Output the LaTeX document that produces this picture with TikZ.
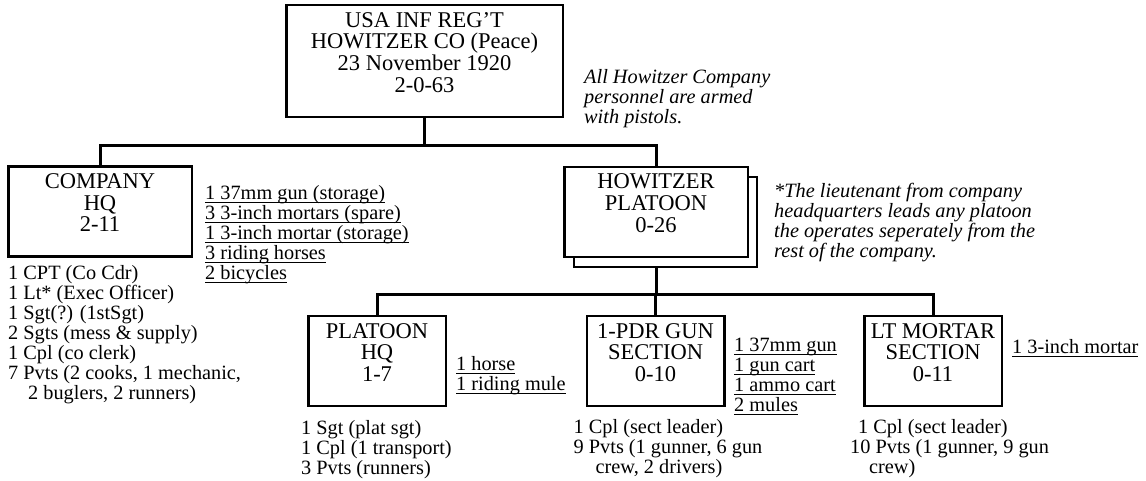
\documentclass[tikz,border=0pt]{standalone}
\usepackage{fontspec}
\setmainfont{Liberation Serif}
\usetikzlibrary{positioning, shadows, backgrounds}

\newcommand{\boxfont}{\fontsize{22.5}{21.7}\selectfont}
\newcommand{\listfont}{\fontsize{20.3}{20}\selectfont}
\newcommand{\lowpad}{\rule[-17.5pt]{0pt}{17.5pt}}
\newcommand{\kit}[1]{\setbox0=\hbox{#1}\rlap{\rule[-4pt]{\wd0}{1.3pt}}\box0}

\begin{document}
\begin{tikzpicture}[
        x=1pt, y=-1pt,
        unit/.style={
            rectangle, draw=black, line width=2.5pt, fill=white,
            align=center, font=\boxfont,
            inner xsep=3pt, inner ysep=7pt
        },
        bigunit/.style={unit, minimum width=276.5pt},
        midunit/.style={unit, minimum width=183.5pt},
        smallunit/.style={unit, minimum width=137.5pt},
        kitlist/.style={align=left, font=\listfont, inner sep=0pt, anchor=north west},
        staff/.style={align=left, font=\listfont, inner sep=0pt, anchor=north west},
        note/.style={align=left, font=\listfont\itshape, inner sep=0pt, anchor=north west},
        link/.style={line width=3pt, black}
    ]
    \useasboundingbox (0,0) rectangle (1146,481);

    \node[bigunit] (root) at (424.5,61) {USA INF REG'T\\HOWITZER CO (Peace)\\23 November 1920\\2-0-63\lowpad};
    \node[midunit] (cohq) at (100,211.5) {COMPANY\\HQ\\2-11\lowpad};
    \node[midunit, copy shadow={shadow xshift=9.5pt, shadow yshift=-10pt, line width=2pt}] (howplt) at (656,212) {HOWITZER\\PLATOON\\0-26\lowpad};
    \node[smallunit] (plthq) at (377,361) {PLATOON\\HQ\\1-7\lowpad};
    \node[smallunit] (gunsec) at (655.5,361) {1-PDR GUN\\SECTION\\0-10\lowpad};
    \node[smallunit] (mortsec) at (933,361) {LT MORTAR\\SECTION\\0-11\lowpad};

    \node[note, below right=65.5pt and 20pt of root.north east] (rootnote) {All Howitzer Company\\personnel are armed\\with pistols.};
    \node[note, below right=17pt and 25pt of howplt.north east] (pltnote) {*The lieutenant from company\\headquarters leads any platoon\\the operates seperately from the\\rest of the company.};

    \node[kitlist, below right=19.5pt and 12pt of cohq.north east] (cohqkit) {\kit{1 37mm gun (storage)}\\\kit{3 3-inch mortars (spare)}\\\kit{1 3-inch mortar (storage)}\\\kit{3 riding horses}\\\kit{2 bicycles}};
    \node[staff, below right=7.5pt and 1pt of cohq.south west] (cohqstaff) {1 CPT (Co Cdr)\\1 Lt* (Exec Officer)\\1 Sgt(?) (1stSgt)\\2 Sgts (mess \& supply)\\1 Cpl (co clerk)\\7 Pvts (2 cooks, 1 mechanic,\\\hspace*{20pt}2 buglers, 2 runners)};

    \node[kitlist, below right=41pt and 9pt of plthq.north east] (plthqkit) {\kit{1 horse}\\\kit{1 riding mule}};
    \node[staff, below right=13pt and -6pt of plthq.south west] (plthqstaff) {1 Sgt (plat sgt)\\1 Cpl (1 transport)\\3 Pvts (runners)};

    \node[kitlist, below right=23pt and 8.5pt of gunsec.north east] (gunseckit) {\kit{1 37mm gun}\\\kit{1 gun cart}\\\kit{1 ammo cart}\\\kit{2 mules}};
    \node[staff, below right=12.5pt and -12pt of gunsec.south west] (gunsecstaff) {1 Cpl (sect leader)\\9 Pvts (1 gunner, 6 gun\\\hspace*{22pt}crew, 2 drivers)};

    \node[kitlist, below right=24pt and 9pt of mortsec.north east] (mortseckit) {\kit{1 3-inch mortar}};
    \node[staff, below right=12.5pt and -13pt of mortsec.south west] (mortsecstaff) {\hspace*{8pt}1 Cpl (sect leader)\\10 Pvts (1 gunner, 9 gun\\\hspace*{19pt}crew)};

    \begin{scope}[on background layer]
        \draw[link] (root.south) -- ++(0,27) -| (cohq.north);
        \draw[link] (root.south) -- ++(0,27) -| (howplt.north);
        \draw[link] (howplt.south) -- ++(0,36) -| (plthq.north);
        \draw[link] (howplt.south) -- ++(0,36) -| (gunsec.north);
        \draw[link] (howplt.south) -- ++(0,36) -| (mortsec.north);
    \end{scope}
\end{tikzpicture}
\end{document}
